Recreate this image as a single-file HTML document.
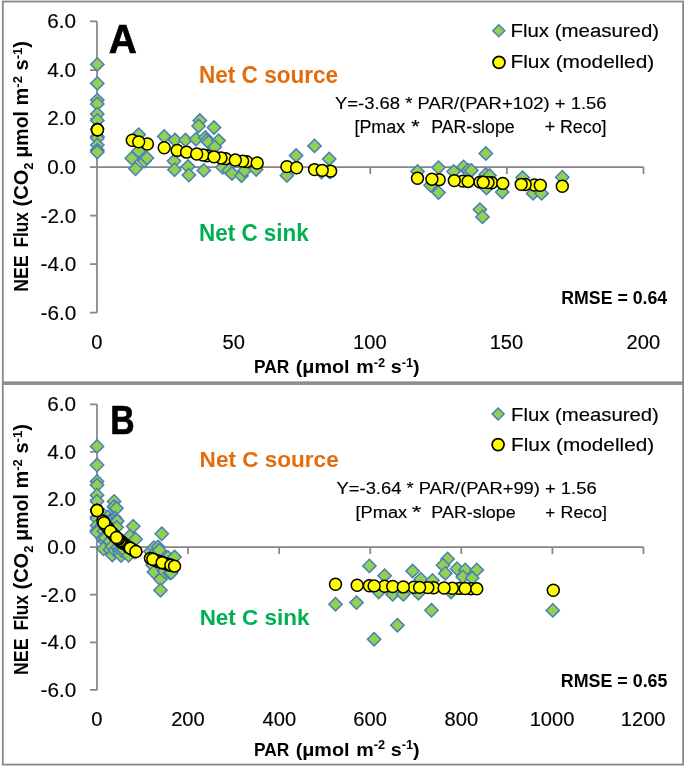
<!DOCTYPE html>
<html><head><meta charset="utf-8"><title>NEE Flux vs PAR</title>
<style>html,body{margin:0;padding:0;background:#fff;} body{width:685px;height:767px;overflow:hidden;font-family:"Liberation Sans",sans-serif;} svg{display:block;will-change:transform;}</style>
</head><body>
<svg width="685" height="767" viewBox="0 0 685 767" font-family="Liberation Sans" font-size="100">
<rect width="685" height="767" fill="#fff"/>
<rect x="2.8" y="1.5" width="680.3" height="380.8" fill="none" stroke="#888" stroke-width="1.8"/><rect x="2.8" y="384.0" width="680.3" height="380.6" fill="none" stroke="#888" stroke-width="1.8"/>
<path d="M97.0 21.48V312.72M90.0 312.72H97.0M90.0 264.18H97.0M90.0 215.64H97.0M90.0 167.10H97.0M90.0 118.56H97.0M90.0 70.02H97.0M90.0 21.48H97.0" stroke="#868686" stroke-width="1.75" fill="none"/><path d="M97.0 167.1H643.5M233.62 167.1v7M370.25 167.1v7M506.88 167.1v7M643.50 167.1v7" stroke="#868686" stroke-width="1.75" fill="none"/><g fill="#92D050" stroke="#4A7EBB" stroke-width="1.5"><path d="M97.30 57.75L103.95 64.40L97.30 71.05L90.65 64.40Z"/><path d="M97.30 76.75L103.95 83.40L97.30 90.05L90.65 83.40Z"/><path d="M97.30 93.45L103.95 100.10L97.30 106.75L90.65 100.10Z"/><path d="M97.30 97.25L103.95 103.90L97.30 110.55L90.65 103.90Z"/><path d="M97.30 107.45L103.95 114.10L97.30 120.75L90.65 114.10Z"/><path d="M97.30 113.75L103.95 120.40L97.30 127.05L90.65 120.40Z"/><path d="M97.30 122.25L103.95 128.90L97.30 135.55L90.65 128.90Z"/><path d="M97.30 129.85L103.95 136.50L97.30 143.15L90.65 136.50Z"/><path d="M97.30 131.55L103.95 138.20L97.30 144.85L90.65 138.20Z"/><path d="M97.30 138.35L103.95 145.00L97.30 151.65L90.65 145.00Z"/><path d="M97.30 143.45L103.95 150.10L97.30 156.75L90.65 150.10Z"/><path d="M97.30 145.35L103.95 152.00L97.30 158.65L90.65 152.00Z"/><path d="M138.70 127.95L145.35 134.60L138.70 141.25L132.05 134.60Z"/><path d="M138.70 144.35L145.35 151.00L138.70 157.65L132.05 151.00Z"/><path d="M131.80 151.65L138.45 158.30L131.80 164.95L125.15 158.30Z"/><path d="M144.20 154.45L150.85 161.10L144.20 167.75L137.55 161.10Z"/><path d="M146.90 151.25L153.55 157.90L146.90 164.55L140.25 157.90Z"/><path d="M135.50 162.15L142.15 168.80L135.50 175.45L128.85 168.80Z"/><path d="M164.20 129.75L170.85 136.40L164.20 143.05L157.55 136.40Z"/><path d="M175.00 133.35L181.65 140.00L175.00 146.65L168.35 140.00Z"/><path d="M174.00 154.35L180.65 161.00L174.00 167.65L167.35 161.00Z"/><path d="M174.50 163.05L181.15 169.70L174.50 176.35L167.85 169.70Z"/><path d="M185.50 133.35L192.15 140.00L185.50 146.65L178.85 140.00Z"/><path d="M196.00 132.55L202.65 139.20L196.00 145.85L189.35 139.20Z"/><path d="M199.80 113.85L206.45 120.50L199.80 127.15L193.15 120.50Z"/><path d="M198.60 119.35L205.25 126.00L198.60 132.65L191.95 126.00Z"/><path d="M214.00 120.85L220.65 127.50L214.00 134.15L207.35 127.50Z"/><path d="M205.30 130.85L211.95 137.50L205.30 144.15L198.65 137.50Z"/><path d="M206.90 133.65L213.55 140.30L206.90 146.95L200.25 140.30Z"/><path d="M208.50 135.55L215.15 142.20L208.50 148.85L201.85 142.20Z"/><path d="M218.60 133.95L225.25 140.60L218.60 147.25L211.95 140.60Z"/><path d="M214.70 140.25L221.35 146.90L214.70 153.55L208.05 146.90Z"/><path d="M188.10 159.85L194.75 166.50L188.10 173.15L181.45 166.50Z"/><path d="M188.90 168.45L195.55 175.10L188.90 181.75L182.25 175.10Z"/><path d="M203.80 163.75L210.45 170.40L203.80 177.05L197.15 170.40Z"/><path d="M222.60 160.65L229.25 167.30L222.60 173.95L215.95 167.30Z"/><path d="M228.80 163.75L235.45 170.40L228.80 177.05L222.15 170.40Z"/><path d="M232.00 166.85L238.65 173.50L232.00 180.15L225.35 173.50Z"/><path d="M241.50 169.05L248.15 175.70L241.50 182.35L234.85 175.70Z"/><path d="M244.70 163.85L251.35 170.50L244.70 177.15L238.05 170.50Z"/><path d="M256.10 162.85L262.75 169.50L256.10 176.15L249.45 169.50Z"/><path d="M286.90 168.85L293.55 175.50L286.90 182.15L280.25 175.50Z"/><path d="M296.10 148.85L302.75 155.50L296.10 162.15L289.45 155.50Z"/><path d="M314.50 139.25L321.15 145.90L314.50 152.55L307.85 145.90Z"/><path d="M329.20 152.35L335.85 159.00L329.20 165.65L322.55 159.00Z"/><path d="M321.50 165.35L328.15 172.00L321.50 178.65L314.85 172.00Z"/><path d="M330.00 165.35L336.65 172.00L330.00 178.65L323.35 172.00Z"/><path d="M417.50 164.85L424.15 171.50L417.50 178.15L410.85 171.50Z"/><path d="M438.50 160.95L445.15 167.60L438.50 174.25L431.85 167.60Z"/><path d="M430.60 178.65L437.25 185.30L430.60 191.95L423.95 185.30Z"/><path d="M438.50 185.95L445.15 192.60L438.50 199.25L431.85 192.60Z"/><path d="M453.60 164.85L460.25 171.50L453.60 178.15L446.95 171.50Z"/><path d="M463.50 160.25L470.15 166.90L463.50 173.55L456.85 166.90Z"/><path d="M468.10 163.55L474.75 170.20L468.10 176.85L461.45 170.20Z"/><path d="M485.80 146.85L492.45 153.50L485.80 160.15L479.15 153.50Z"/><path d="M485.80 167.85L492.45 174.50L485.80 181.15L479.15 174.50Z"/><path d="M489.50 168.85L496.15 175.50L489.50 182.15L482.85 175.50Z"/><path d="M486.50 181.35L493.15 188.00L486.50 194.65L479.85 188.00Z"/><path d="M479.90 202.95L486.55 209.60L479.90 216.25L473.25 209.60Z"/><path d="M482.50 210.25L489.15 216.90L482.50 223.55L475.85 216.90Z"/><path d="M471.30 163.75L477.95 170.40L471.30 177.05L464.65 170.40Z"/><path d="M502.20 185.35L508.85 192.00L502.20 198.65L495.55 192.00Z"/><path d="M522.60 170.95L529.25 177.60L522.60 184.25L515.95 177.60Z"/><path d="M533.10 186.75L539.75 193.40L533.10 200.05L526.45 193.40Z"/><path d="M541.60 186.75L548.25 193.40L541.60 200.05L534.95 193.40Z"/><path d="M562.30 170.55L568.95 177.20L562.30 183.85L555.65 177.20Z"/></g><g fill="#FFFF00" stroke="#000" stroke-width="1.5"><circle cx="534.40" cy="184.99" r="5.95"/><circle cx="525.20" cy="184.54" r="5.95"/><circle cx="491.70" cy="182.79" r="5.95"/><circle cx="488.00" cy="182.58" r="5.95"/><circle cx="480.00" cy="182.13" r="5.95"/><circle cx="462.80" cy="181.13" r="5.95"/><circle cx="439.20" cy="179.66" r="5.95"/><circle cx="330.60" cy="171.16" r="5.95"/><circle cx="314.50" cy="169.59" r="5.95"/><circle cx="286.90" cy="166.63" r="5.95"/><circle cx="246.70" cy="161.65" r="5.95"/><circle cx="242.60" cy="161.09" r="5.95"/><circle cx="225.70" cy="158.65" r="5.95"/><circle cx="221.00" cy="157.94" r="5.95"/><circle cx="206.90" cy="155.70" r="5.95"/><circle cx="203.00" cy="155.05" r="5.95"/><circle cx="147.40" cy="144.05" r="5.95"/><circle cx="132.30" cy="140.20" r="5.95"/><circle cx="97.30" cy="129.74" r="5.95"/><circle cx="97.30" cy="129.74" r="5.95"/><circle cx="97.50" cy="129.81" r="5.95"/><circle cx="138.70" cy="141.87" r="5.95"/><circle cx="164.20" cy="147.79" r="5.95"/><circle cx="177.20" cy="150.40" r="5.95"/><circle cx="186.60" cy="152.17" r="5.95"/><circle cx="196.70" cy="153.97" r="5.95"/><circle cx="214.00" cy="156.85" r="5.95"/><circle cx="235.30" cy="160.06" r="5.95"/><circle cx="257.20" cy="163.04" r="5.95"/><circle cx="296.60" cy="167.71" r="5.95"/><circle cx="322.20" cy="170.35" r="5.95"/><circle cx="417.50" cy="178.21" r="5.95"/><circle cx="431.90" cy="179.18" r="5.95"/><circle cx="454.30" cy="180.61" r="5.95"/><circle cx="468.10" cy="181.44" r="5.95"/><circle cx="483.20" cy="182.31" r="5.95"/><circle cx="502.80" cy="183.39" r="5.95"/><circle cx="521.20" cy="184.34" r="5.95"/><circle cx="540.30" cy="185.28" r="5.95"/><circle cx="562.30" cy="186.29" r="5.95"/></g>
<path d="M97.0 404.30V689.90M90.0 689.90H97.0M90.0 642.30H97.0M90.0 594.70H97.0M90.0 547.10H97.0M90.0 499.50H97.0M90.0 451.90H97.0M90.0 404.30H97.0" stroke="#868686" stroke-width="1.75" fill="none"/><path d="M97.0 547.1H643.5M188.08 547.1v7M279.17 547.1v7M370.25 547.1v7M461.33 547.1v7M552.42 547.1v7M643.50 547.1v7" stroke="#868686" stroke-width="1.75" fill="none"/><g fill="#92D050" stroke="#4A7EBB" stroke-width="1.5"><path d="M97.05 439.74L103.70 446.39L97.05 453.04L90.40 446.39Z"/><path d="M97.05 458.37L103.70 465.02L97.05 471.67L90.40 465.02Z"/><path d="M97.05 474.75L103.70 481.40L97.05 488.05L90.40 481.40Z"/><path d="M97.05 478.47L103.70 485.12L97.05 491.77L90.40 485.12Z"/><path d="M97.05 488.48L103.70 495.13L97.05 501.78L90.40 495.13Z"/><path d="M97.05 494.65L103.70 501.30L97.05 507.95L90.40 501.30Z"/><path d="M97.05 502.99L103.70 509.64L97.05 516.29L90.40 509.64Z"/><path d="M97.05 510.44L103.70 517.09L97.05 523.74L90.40 517.09Z"/><path d="M97.05 512.11L103.70 518.76L97.05 525.41L90.40 518.76Z"/><path d="M97.05 518.78L103.70 525.43L97.05 532.08L90.40 525.43Z"/><path d="M97.05 523.78L103.70 530.43L97.05 537.08L90.40 530.43Z"/><path d="M97.05 525.64L103.70 532.29L97.05 538.94L90.40 532.29Z"/><path d="M103.95 508.58L110.60 515.23L103.95 521.88L97.30 515.23Z"/><path d="M103.95 524.66L110.60 531.31L103.95 537.96L97.30 531.31Z"/><path d="M102.80 531.82L109.45 538.47L102.80 545.12L96.15 538.47Z"/><path d="M104.87 534.57L111.52 541.22L104.87 547.87L98.22 541.22Z"/><path d="M105.32 531.43L111.97 538.08L105.32 544.73L98.67 538.08Z"/><path d="M103.42 542.12L110.07 548.77L103.42 555.42L96.77 548.77Z"/><path d="M108.20 510.34L114.85 516.99L108.20 523.64L101.55 516.99Z"/><path d="M110.00 513.87L116.65 520.52L110.00 527.17L103.35 520.52Z"/><path d="M109.83 534.47L116.48 541.12L109.83 547.77L103.18 541.12Z"/><path d="M109.92 543.00L116.57 549.65L109.92 556.30L103.27 549.65Z"/><path d="M111.75 513.87L118.40 520.52L111.75 527.17L105.10 520.52Z"/><path d="M113.50 513.09L120.15 519.74L113.50 526.39L106.85 519.74Z"/><path d="M114.13 494.75L120.78 501.40L114.13 508.05L107.48 501.40Z"/><path d="M113.93 500.15L120.58 506.80L113.93 513.45L107.28 506.80Z"/><path d="M116.50 501.62L123.15 508.27L116.50 514.92L109.85 508.27Z"/><path d="M115.05 511.42L121.70 518.07L115.05 524.72L108.40 518.07Z"/><path d="M115.32 514.17L121.97 520.82L115.32 527.47L108.67 520.82Z"/><path d="M115.58 516.03L122.23 522.68L115.58 529.33L108.93 522.68Z"/><path d="M117.27 514.46L123.92 521.11L117.27 527.76L110.62 521.11Z"/><path d="M116.62 520.64L123.27 527.29L116.62 533.94L109.97 527.29Z"/><path d="M112.18 539.86L118.83 546.51L112.18 553.16L105.53 546.51Z"/><path d="M112.32 548.30L118.97 554.95L112.32 561.60L105.67 554.95Z"/><path d="M114.80 543.69L121.45 550.34L114.80 556.99L108.15 550.34Z"/><path d="M117.93 540.65L124.58 547.30L117.93 553.95L111.28 547.30Z"/><path d="M118.97 543.69L125.62 550.34L118.97 556.99L112.32 550.34Z"/><path d="M119.50 546.73L126.15 553.38L119.50 560.03L112.85 553.38Z"/><path d="M121.08 548.88L127.73 555.53L121.08 562.18L114.43 555.53Z"/><path d="M121.62 543.78L128.27 550.43L121.62 557.08L114.97 550.43Z"/><path d="M123.52 542.80L130.17 549.45L123.52 556.10L116.87 549.45Z"/><path d="M128.65 548.69L135.30 555.34L128.65 561.99L122.00 555.34Z"/><path d="M130.18 529.07L136.83 535.72L130.18 542.37L123.53 535.72Z"/><path d="M133.25 519.66L139.90 526.31L133.25 532.96L126.60 526.31Z"/><path d="M135.70 532.51L142.35 539.16L135.70 545.81L129.05 539.16Z"/><path d="M134.42 545.26L141.07 551.91L134.42 558.56L127.77 551.91Z"/><path d="M135.83 545.26L142.48 551.91L135.83 558.56L129.18 551.91Z"/><path d="M150.42 544.76L157.07 551.41L150.42 558.06L143.77 551.41Z"/><path d="M153.92 540.94L160.57 547.59L153.92 554.24L147.27 547.59Z"/><path d="M152.60 558.30L159.25 564.95L152.60 571.60L145.95 564.95Z"/><path d="M153.92 565.46L160.57 572.11L153.92 578.76L147.27 572.11Z"/><path d="M156.43 544.76L163.08 551.41L156.43 558.06L149.78 551.41Z"/><path d="M158.08 540.25L164.73 546.90L158.08 553.55L151.43 546.90Z"/><path d="M158.85 543.49L165.50 550.14L158.85 556.79L152.20 550.14Z"/><path d="M161.80 527.11L168.45 533.76L161.80 540.41L155.15 533.76Z"/><path d="M161.80 547.71L168.45 554.36L161.80 561.01L155.15 554.36Z"/><path d="M162.42 548.69L169.07 555.34L162.42 561.99L155.77 555.34Z"/><path d="M161.92 560.95L168.57 567.60L161.92 574.25L155.27 567.60Z"/><path d="M160.50 572.65L167.15 579.30L160.50 585.95L153.85 579.30Z"/><path d="M160.50 583.55L167.15 590.20L160.50 596.85L153.85 590.20Z"/><path d="M159.38 543.69L166.03 550.34L159.38 556.99L152.73 550.34Z"/><path d="M164.53 564.87L171.18 571.52L164.53 578.17L157.88 571.52Z"/><path d="M167.93 550.75L174.58 557.40L167.93 564.05L161.28 557.40Z"/><path d="M169.68 566.24L176.33 572.89L169.68 579.54L163.03 572.89Z"/><path d="M171.10 566.24L177.75 572.89L171.10 579.54L164.45 572.89Z"/><path d="M174.55 550.35L181.20 557.00L174.55 563.65L167.90 557.00Z"/><path d="M335.50 597.55L342.15 604.20L335.50 610.85L328.85 604.20Z"/><path d="M356.50 595.95L363.15 602.60L356.50 609.25L349.85 602.60Z"/><path d="M369.40 559.25L376.05 565.90L369.40 572.55L362.75 565.90Z"/><path d="M384.60 569.05L391.25 575.70L384.60 582.35L377.95 575.70Z"/><path d="M412.60 564.35L419.25 571.00L412.60 577.65L405.95 571.00Z"/><path d="M378.70 585.35L385.35 592.00L378.70 598.65L372.05 592.00Z"/><path d="M392.70 587.75L399.35 594.40L392.70 601.05L386.05 594.40Z"/><path d="M403.30 587.75L409.95 594.40L403.30 601.05L396.65 594.40Z"/><path d="M418.40 586.55L425.05 593.20L418.40 599.85L411.75 593.20Z"/><path d="M420.80 572.55L427.45 579.20L420.80 585.85L414.15 579.20Z"/><path d="M432.50 573.75L439.15 580.40L432.50 587.05L425.85 580.40Z"/><path d="M431.50 603.65L438.15 610.30L431.50 616.95L424.85 610.30Z"/><path d="M397.40 618.55L404.05 625.20L397.40 631.85L390.75 625.20Z"/><path d="M374.10 632.55L380.75 639.20L374.10 645.85L367.45 639.20Z"/><path d="M447.60 552.25L454.25 558.90L447.60 565.55L440.95 558.90Z"/><path d="M443.00 558.55L449.65 565.20L443.00 571.85L436.35 565.20Z"/><path d="M445.30 566.75L451.95 573.40L445.30 580.05L438.65 573.40Z"/><path d="M457.00 562.05L463.65 568.70L457.00 575.35L450.35 568.70Z"/><path d="M465.20 563.25L471.85 569.90L465.20 576.55L458.55 569.90Z"/><path d="M476.80 563.25L483.45 569.90L476.80 576.55L470.15 569.90Z"/><path d="M462.80 570.25L469.45 576.90L462.80 583.55L456.15 576.90Z"/><path d="M472.20 571.35L478.85 578.00L472.20 584.65L465.55 578.00Z"/><path d="M451.10 585.35L457.75 592.00L451.10 598.65L444.45 592.00Z"/><path d="M552.80 603.75L559.45 610.40L552.80 617.05L546.15 610.40Z"/></g><g fill="#FFFF00" stroke="#000" stroke-width="1.5"><circle cx="471.00" cy="588.68" r="5.95"/><circle cx="459.30" cy="588.42" r="5.95"/><circle cx="452.30" cy="588.25" r="5.95"/><circle cx="433.60" cy="587.77" r="5.95"/><circle cx="427.80" cy="587.61" r="5.95"/><circle cx="413.80" cy="587.21" r="5.95"/><circle cx="384.60" cy="586.26" r="5.95"/><circle cx="369.40" cy="585.70" r="5.95"/><circle cx="169.90" cy="564.90" r="5.95"/><circle cx="168.37" cy="564.46" r="5.95"/><circle cx="167.70" cy="564.27" r="5.95"/><circle cx="164.63" cy="563.35" r="5.95"/><circle cx="162.78" cy="562.77" r="5.95"/><circle cx="161.37" cy="562.32" r="5.95"/><circle cx="160.83" cy="562.14" r="5.95"/><circle cx="158.85" cy="561.48" r="5.95"/><circle cx="157.97" cy="561.17" r="5.95"/><circle cx="156.55" cy="560.68" r="5.95"/><circle cx="154.03" cy="559.76" r="5.95"/><circle cx="150.42" cy="558.35" r="5.95"/><circle cx="134.53" cy="550.73" r="5.95"/><circle cx="133.25" cy="549.98" r="5.95"/><circle cx="128.65" cy="547.10" r="5.95"/><circle cx="123.70" cy="543.59" r="5.95"/><circle cx="121.95" cy="542.23" r="5.95"/><circle cx="121.27" cy="541.68" r="5.95"/><circle cx="120.05" cy="540.68" r="5.95"/><circle cx="118.45" cy="539.30" r="5.95"/><circle cx="117.67" cy="538.60" r="5.95"/><circle cx="115.32" cy="536.40" r="5.95"/><circle cx="114.67" cy="535.76" r="5.95"/><circle cx="113.62" cy="534.70" r="5.95"/><circle cx="111.93" cy="532.93" r="5.95"/><circle cx="108.20" cy="528.61" r="5.95"/><circle cx="105.40" cy="524.90" r="5.95"/><circle cx="102.88" cy="521.02" r="5.95"/><circle cx="97.05" cy="510.47" r="5.95"/><circle cx="97.05" cy="510.47" r="5.95"/><circle cx="97.08" cy="510.54" r="5.95"/><circle cx="103.95" cy="522.71" r="5.95"/><circle cx="110.37" cy="531.18" r="5.95"/><circle cx="116.50" cy="537.53" r="5.95"/><circle cx="130.27" cy="548.15" r="5.95"/><circle cx="135.93" cy="551.52" r="5.95"/><circle cx="152.82" cy="559.29" r="5.95"/><circle cx="162.17" cy="562.58" r="5.95"/><circle cx="170.88" cy="565.17" r="5.95"/><circle cx="174.55" cy="566.15" r="5.95"/><circle cx="335.50" cy="584.23" r="5.95"/><circle cx="357.20" cy="585.21" r="5.95"/><circle cx="374.10" cy="585.88" r="5.95"/><circle cx="392.70" cy="586.54" r="5.95"/><circle cx="403.30" cy="586.89" r="5.95"/><circle cx="419.60" cy="587.38" r="5.95"/><circle cx="444.10" cy="588.04" r="5.95"/><circle cx="465.20" cy="588.55" r="5.95"/><circle cx="476.80" cy="588.81" r="5.95"/><circle cx="553.30" cy="590.21" r="5.95"/></g>
<g fill="#92D050" stroke="#4A7EBB" stroke-width="1.5"><path d="M498.80 24.80L504.80 30.80L498.80 36.80L492.80 30.80Z"/></g><g fill="#FFFF00" stroke="#000" stroke-width="1.7"><circle cx="499.00" cy="62.30" r="6.0"/></g><g fill="#92D050" stroke="#4A7EBB" stroke-width="1.5"><path d="M498.10 408.00L504.10 414.00L498.10 420.00L492.10 414.00Z"/></g><g fill="#FFFF00" stroke="#000" stroke-width="1.7"><circle cx="498.10" cy="444.60" r="6.0"/></g>
<text transform="translate(47.35 28.37) scale(0.2070 0.2070)" font-weight="normal" fill="#000" stroke="#000" stroke-width="0.724">6.0</text><text transform="translate(47.35 76.91) scale(0.2070 0.2070)" font-weight="normal" fill="#000" stroke="#000" stroke-width="0.724">4.0</text><text transform="translate(47.35 125.45) scale(0.2070 0.2070)" font-weight="normal" fill="#000" stroke="#000" stroke-width="0.724">2.0</text><text transform="translate(47.35 173.99) scale(0.2070 0.2070)" font-weight="normal" fill="#000" stroke="#000" stroke-width="0.724">0.0</text><text transform="translate(40.52 222.53) scale(0.2070 0.2070)" font-weight="normal" fill="#000" stroke="#000" stroke-width="0.724">-2.0</text><text transform="translate(40.52 271.07) scale(0.2070 0.2070)" font-weight="normal" fill="#000" stroke="#000" stroke-width="0.724">-4.0</text><text transform="translate(40.52 319.61) scale(0.2070 0.2070)" font-weight="normal" fill="#000" stroke="#000" stroke-width="0.724">-6.0</text><text transform="translate(91.36 349.20) scale(0.2014 0.2014)" font-weight="normal" fill="#000" stroke="#000" stroke-width="0.745">0</text><text transform="translate(222.45 349.20) scale(0.2014 0.2014)" font-weight="normal" fill="#000" stroke="#000" stroke-width="0.745">50</text><text transform="translate(353.03 349.20) scale(0.2014 0.2014)" font-weight="normal" fill="#000" stroke="#000" stroke-width="0.745">100</text><text transform="translate(489.65 349.20) scale(0.2014 0.2014)" font-weight="normal" fill="#000" stroke="#000" stroke-width="0.745">150</text><text transform="translate(626.58 349.20) scale(0.2014 0.2014)" font-weight="normal" fill="#000" stroke="#000" stroke-width="0.745">200</text><text transform="translate(47.35 411.19) scale(0.2070 0.2070)" font-weight="normal" fill="#000" stroke="#000" stroke-width="0.724">6.0</text><text transform="translate(47.35 458.79) scale(0.2070 0.2070)" font-weight="normal" fill="#000" stroke="#000" stroke-width="0.724">4.0</text><text transform="translate(47.35 506.39) scale(0.2070 0.2070)" font-weight="normal" fill="#000" stroke="#000" stroke-width="0.724">2.0</text><text transform="translate(47.35 553.99) scale(0.2070 0.2070)" font-weight="normal" fill="#000" stroke="#000" stroke-width="0.724">0.0</text><text transform="translate(40.52 601.59) scale(0.2070 0.2070)" font-weight="normal" fill="#000" stroke="#000" stroke-width="0.724">-2.0</text><text transform="translate(40.52 649.19) scale(0.2070 0.2070)" font-weight="normal" fill="#000" stroke="#000" stroke-width="0.724">-4.0</text><text transform="translate(40.52 696.79) scale(0.2070 0.2070)" font-weight="normal" fill="#000" stroke="#000" stroke-width="0.724">-6.0</text><text transform="translate(91.36 726.40) scale(0.2014 0.2014)" font-weight="normal" fill="#000" stroke="#000" stroke-width="0.745">0</text><text transform="translate(171.17 726.40) scale(0.2014 0.2014)" font-weight="normal" fill="#000" stroke="#000" stroke-width="0.745">200</text><text transform="translate(262.55 726.40) scale(0.2014 0.2014)" font-weight="normal" fill="#000" stroke="#000" stroke-width="0.745">400</text><text transform="translate(353.33 726.40) scale(0.2014 0.2014)" font-weight="normal" fill="#000" stroke="#000" stroke-width="0.745">600</text><text transform="translate(444.52 726.40) scale(0.2014 0.2014)" font-weight="normal" fill="#000" stroke="#000" stroke-width="0.745">800</text><text transform="translate(529.66 726.40) scale(0.2014 0.2014)" font-weight="normal" fill="#000" stroke="#000" stroke-width="0.745">1000</text><text transform="translate(620.74 726.40) scale(0.2014 0.2014)" font-weight="normal" fill="#000" stroke="#000" stroke-width="0.745">1200</text><text transform="translate(253.89 373.30) scale(0.1732 0.1928)" font-weight="bold" fill="#000">PAR</text><text transform="translate(295.71 373.30) scale(0.1977 0.1928)" font-weight="bold" fill="#000">(μmol</text><text transform="translate(356.32 373.30) scale(0.1971 0.1928)" font-weight="bold" fill="#000">m<tspan dy="-33" font-size="65">-2</tspan><tspan dy="33"> s</tspan><tspan dy="-33" font-size="65">-1</tspan><tspan dy="33">)</tspan></text><text transform="translate(28.40 291.84) rotate(-90) scale(0.1774 0.2087)" font-weight="bold" fill="#000">NEE</text><text transform="translate(28.40 247.51) rotate(-90) scale(0.1722 0.2087)" font-weight="bold" fill="#000">Flux</text><text transform="translate(28.40 206.40) rotate(-90) scale(0.2000 0.2087)" font-weight="bold" fill="#000">(CO<tspan dy="22" font-size="65">2</tspan></text><text transform="translate(28.40 157.56) rotate(-90) scale(0.1947 0.2087)" font-weight="bold" fill="#000">μmol</text><text transform="translate(28.40 105.50) rotate(-90) scale(0.2006 0.2087)" font-weight="bold" fill="#000">m<tspan dy="-33" font-size="65">-2</tspan><tspan dy="33"> s</tspan><tspan dy="-33" font-size="65">-1</tspan><tspan dy="33">)</tspan></text><text transform="translate(253.89 755.80) scale(0.1732 0.1913)" font-weight="bold" fill="#000">PAR</text><text transform="translate(295.71 755.80) scale(0.1977 0.1913)" font-weight="bold" fill="#000">(μmol</text><text transform="translate(356.32 755.80) scale(0.1971 0.1913)" font-weight="bold" fill="#000">m<tspan dy="-33" font-size="65">-2</tspan><tspan dy="33"> s</tspan><tspan dy="-33" font-size="65">-1</tspan><tspan dy="33">)</tspan></text><text transform="translate(28.40 674.94) rotate(-90) scale(0.1774 0.2087)" font-weight="bold" fill="#000">NEE</text><text transform="translate(28.40 630.61) rotate(-90) scale(0.1722 0.2087)" font-weight="bold" fill="#000">Flux</text><text transform="translate(28.40 589.50) rotate(-90) scale(0.2000 0.2087)" font-weight="bold" fill="#000">(CO<tspan dy="22" font-size="65">2</tspan></text><text transform="translate(28.40 540.66) rotate(-90) scale(0.1947 0.2087)" font-weight="bold" fill="#000">μmol</text><text transform="translate(28.40 488.60) rotate(-90) scale(0.2006 0.2087)" font-weight="bold" fill="#000">m<tspan dy="-33" font-size="65">-2</tspan><tspan dy="33"> s</tspan><tspan dy="-33" font-size="65">-1</tspan><tspan dy="33">)</tspan></text><text transform="translate(108.84 53.00) scale(0.3879 0.4058)" font-weight="bold" fill="#000" stroke="#000" stroke-width="1.725" stroke-linejoin="miter">A</text><text transform="translate(199.02 82.70) scale(0.2256 0.2348)" font-weight="bold" fill="#E46C0A">Net C source</text><text transform="translate(199.03 240.70) scale(0.2245 0.2304)" font-weight="bold" fill="#00B050">Net C sink</text><text transform="translate(334.95 108.80) scale(0.1846 0.1739)" font-weight="normal" fill="#000" stroke="#000" stroke-width="0.863">Y=-3.68 * PAR/(PAR+102) + 1.56</text><text transform="translate(354.45 132.90) scale(0.1793 0.1754)" font-weight="normal" fill="#000" stroke="#000" stroke-width="0.855">[Pmax</text><text transform="translate(411.27 132.90) scale(0.2171 0.1754)" font-weight="normal" fill="#000" stroke="#000" stroke-width="0.855">*</text><text transform="translate(431.18 132.90) scale(0.1775 0.1754)" font-weight="normal" fill="#000" stroke="#000" stroke-width="0.855">PAR-slope</text><text transform="translate(544.70 132.90) scale(0.1792 0.1754)" font-weight="normal" fill="#000" stroke="#000" stroke-width="0.855">+</text><text transform="translate(559.97 132.90) scale(0.1785 0.1754)" font-weight="normal" fill="#000" stroke="#000" stroke-width="0.855">Reco]</text><text transform="translate(561.26 304.10) scale(0.1773 0.1870)" font-weight="bold" fill="#000">RMSE = 0.64</text><text transform="translate(510.47 37.30) scale(0.2043 0.1884)" font-weight="normal" fill="#000" stroke="#000" stroke-width="0.796">Flux (measured)</text><text transform="translate(510.43 68.20) scale(0.2089 0.1884)" font-weight="normal" fill="#000" stroke="#000" stroke-width="0.796">Flux (modelled)</text><text transform="translate(110.34 434.40) scale(0.3377 0.4130)" font-weight="bold" fill="#000" stroke="#000" stroke-width="1.695" stroke-linejoin="miter">B</text><text transform="translate(199.62 466.90) scale(0.2256 0.2275)" font-weight="bold" fill="#E46C0A">Net C source</text><text transform="translate(199.63 625.20) scale(0.2249 0.2130)" font-weight="bold" fill="#00B050">Net C sink</text><text transform="translate(336.55 493.60) scale(0.1837 0.1739)" font-weight="normal" fill="#000" stroke="#000" stroke-width="0.863">Y=-3.64 * PAR/(PAR+99) + 1.56</text><text transform="translate(355.52 518.10) scale(0.1822 0.1652)" font-weight="normal" fill="#000" stroke="#000" stroke-width="0.908">[Pmax</text><text transform="translate(411.71 518.10) scale(0.2457 0.1652)" font-weight="normal" fill="#000" stroke="#000" stroke-width="0.908">*</text><text transform="translate(431.37 518.10) scale(0.1793 0.1652)" font-weight="normal" fill="#000" stroke="#000" stroke-width="0.908">PAR-slope</text><text transform="translate(545.36 518.10) scale(0.1687 0.1652)" font-weight="normal" fill="#000" stroke="#000" stroke-width="0.908">+</text><text transform="translate(560.58 518.10) scale(0.1780 0.1652)" font-weight="normal" fill="#000" stroke="#000" stroke-width="0.908">Reco]</text><text transform="translate(560.85 687.10) scale(0.1786 0.1870)" font-weight="bold" fill="#000">RMSE = 0.65</text><text transform="translate(511.07 420.70) scale(0.2032 0.1855)" font-weight="normal" fill="#000" stroke="#000" stroke-width="0.809">Flux (measured)</text><text transform="translate(511.04 451.00) scale(0.2077 0.1855)" font-weight="normal" fill="#000" stroke="#000" stroke-width="0.809">Flux (modelled)</text>
</svg>
</body></html>
